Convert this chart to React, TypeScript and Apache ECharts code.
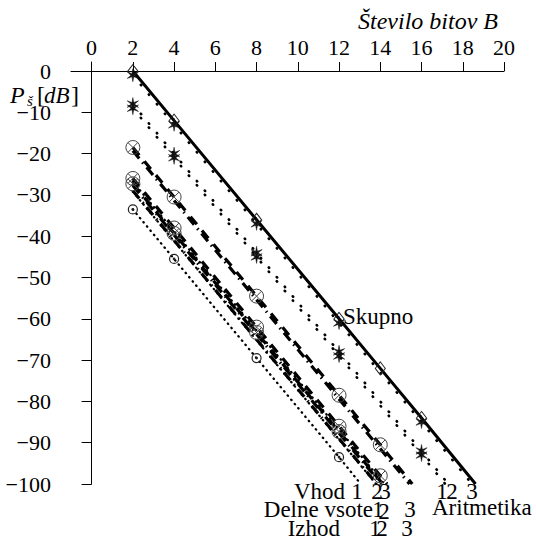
import React, { useEffect, useRef } from 'react';
import * as echarts from 'echarts';

// ---- axis ticks ----
const X_TICKS = [0, 2, 4, 6, 8, 10, 12, 14, 16, 18, 20];
const Y_TICKS = [0, -10, -20, -30, -40, -50, -60, -70, -80, -90, -100];

// ---- series: marker points [B, dB] and end point where each line meets -100 dB ----
const skupnoPts = [[2, 0], [4, -12], [8, -36], [12, -60], [14, -72], [16, -84]];
const skupnoEnd = [18.62, -100];

const arit3Pts = [[2, -1], [4, -13], [8, -37], [12, -61], [16, -85]];
const arit3End = [18.45, -100];
const arit2Pts = [[2, -8], [4, -20], [8, -44], [12, -68], [16, -92]];
const arit2End = [17.3, -100];
const arit1Pts = [[2, -9], [4, -21], [8, -45], [12, -69], [16, -93]];
const arit1End = [17.15, -100];

const delne3Pts = [[2, -18.5], [4, -30.5], [8, -54.5], [12, -78.5], [14, -90.5]];
const delne3End = [15.55, -100];
const izhod3Pts = [[2, -19.3]];
const izhod3End = [15.42, -100];

const delne2Pts = [[2, -26], [4, -38], [8, -62], [12, -86], [14, -98]];
const delne2End = [14.33, -100];
const delne1Pts = [[2, -27.3], [4, -39.3], [8, -63.3], [12, -87.3]];
const delne1End = [14.12, -100];
const izhod2Pts = [[2, -27.7]];
const izhod2End = [14.05, -100];
const izhod1Pts = [[2, -29]];
const izhod1End = [13.83, -100];

const vhod3Pts = [[2, -26.8]];
const vhod3End = [14.2, -100];
const vhod2Pts = [[2, -29.2]];
const vhod2End = [13.8, -100];
const vhod1Pts = [[2, -33.5], [4, -45.5], [8, -69.5], [12, -93.5]];
const vhod1End = [13.05, -100];

const SERIF = 'Liberation Serif';

const STAR =
  'path://M0,-6L0.8,-1.386L5.196,-3L1.6,0L5.196,3L0.8,1.386L0,6L-0.8,1.386L-5.196,3L-1.6,0L-5.196,-3L-0.8,-1.386Z';
const OTIMES =
  'path://M-6,0A6,6 0 1 1 6,0A6,6 0 1 1 -6,0ZM-4.24,-4.24L4.24,4.24M-4.24,4.24L4.24,-4.24';
const ODOT =
  'path://M-4,0A4,4 0 1 1 4,0A4,4 0 1 1 -4,0ZM-0.7,0A0.7,0.7 0 1 1 0.7,0A0.7,0.7 0 1 1 -0.7,0Z';

type Mk = { symbol: string; size: number | number[]; item: any } | null;

const MK_DIAMOND: Mk = {
  symbol: 'diamond',
  size: [10, 13],
  item: { color: 'rgba(0,0,0,0)', borderColor: '#222', borderWidth: 1 },
};
const MK_STAR: Mk = { symbol: STAR, size: 13, item: { color: '#111', borderColor: '#111', borderWidth: 0.5 } };
const MK_OTIMES: Mk = { symbol: OTIMES, size: 14, item: { color: 'rgba(0,0,0,0)', borderColor: '#444', borderWidth: 1 } };
const MK_ODOT: Mk = { symbol: ODOT, size: 9, item: { color: 'rgba(0,0,0,0)', borderColor: '#222', borderWidth: 1.2 } };

function mkSeries(name: string, pts: number[][], end: number[], line: any, mk: Mk) {
  const data: any[] = pts.map((p) => (mk ? { value: p } : { value: p, symbol: 'none' }));
  data.push({ value: end, symbol: 'none' });
  return {
    name,
    type: 'line',
    data,
    silent: true,
    clip: false,
    showSymbol: true,
    showAllSymbol: true,
    symbol: mk ? mk.symbol : 'none',
    symbolSize: mk ? mk.size : 0,
    symbolKeepAspect: true,
    itemStyle: mk ? mk.item : { color: '#000' },
    lineStyle: { color: '#000', ...line },
    emphasis: { disabled: true },
  };
}

const SOLID = { width: 3, type: 'solid' };
const DOT_WIDE = { width: 2.6, type: [0.5, 12], cap: 'round' };
const DOT_FINE = { width: 2.3, type: [0.5, 5], cap: 'round' };
const DASH = { width: 3.2, type: [10, 8], cap: 'butt' };
const DASHDOT = { width: 3.2, type: [10, 5, 1.5, 5], cap: 'butt' };

function txt(text: string, x: number, y: number, align: string, size = 23, italic = false) {
  const style: any = {
    text,
    fill: '#000',
    fontSize: size,
    fontFamily: SERIF,
    align,
    verticalAlign: 'middle',
  };
  if (italic) style.fontStyle = 'italic';
  return { type: 'text', x, y, style };
}

export default function App() {
  const ref = useRef<HTMLDivElement>(null);

  useEffect(() => {
    if (!ref.current) return;
    const chart = echarts.init(ref.current, null, { renderer: 'svg' });

    const series = [
      mkSeries('Vhod 3', vhod3Pts, vhod3End, DOT_FINE, null),
      mkSeries('Vhod 2', vhod2Pts, vhod2End, DOT_FINE, null),
      mkSeries('Vhod 1', vhod1Pts, vhod1End, DOT_FINE, MK_ODOT),
      mkSeries('Izhod 1', izhod1Pts, izhod1End, DASHDOT, null),
      mkSeries('Izhod 2', izhod2Pts, izhod2End, DASHDOT, null),
      mkSeries('Delne vsote 1', delne1Pts, delne1End, DASH, MK_OTIMES),
      mkSeries('Delne vsote 2', delne2Pts, delne2End, DASH, MK_OTIMES),
      mkSeries('Izhod 3', izhod3Pts, izhod3End, DASHDOT, null),
      mkSeries('Delne vsote 3', delne3Pts, delne3End, DASH, MK_OTIMES),
      mkSeries('Aritmetika 1', arit1Pts, arit1End, DOT_WIDE, MK_STAR),
      mkSeries('Aritmetika 2', arit2Pts, arit2End, DOT_WIDE, MK_STAR),
      mkSeries('Aritmetika 3', arit3Pts, arit3End, DOT_WIDE, MK_STAR),
      mkSeries('Skupno', skupnoPts, skupnoEnd, SOLID, MK_DIAMOND),
    ];

    const graphic = [
      // x-axis title
      txt('Število bitov B', 498, 21, 'right', 24, true),
      // y-axis title P_š[dB]
      txt('P', 10, 95, 'left', 24, true),
      txt('š', 27, 101, 'left', 15, true),
      txt('[', 37, 95, 'left', 24, false),
      txt('dB', 44, 95, 'left', 23, true),
      txt(']', 71, 95, 'left', 24, false),
      // annotations
      txt('Skupno', 343, 316, 'left'),
      txt('Vhod', 345, 491, 'right'),
      txt('1', 357, 491, 'center'),
      txt('2', 377, 491, 'center'),
      txt('3', 385, 491, 'center'),
      txt('1', 442, 491, 'center'),
      txt('2', 452, 491, 'center'),
      txt('3', 472, 491, 'center'),
      txt('Delne vsote', 373, 509, 'right'),
      txt('1', 378, 509, 'center'),
      txt('2', 384, 511, 'center'),
      txt('3', 410, 509, 'center'),
      txt('Aritmetika', 432, 507, 'left'),
      txt('Izhod', 340, 528, 'right'),
      txt('1', 375, 528, 'center'),
      txt('2', 382, 528, 'center'),
      txt('3', 407, 528, 'center'),
    ];

    chart.setOption({
      animation: false,
      grid: { left: 71, right: 32, top: 62, bottom: 57, containLabel: false },
      xAxis: {
        type: 'value',
        min: -1,
        max: 20,
        position: 'top',
        axisLine: { show: true, onZero: true, lineStyle: { color: '#000', width: 1 } },
        axisTick: { show: true, length: 9, customValues: X_TICKS, lineStyle: { color: '#000', width: 1 } },
        axisLabel: { customValues: X_TICKS, margin: 4, fontSize: 22, fontFamily: SERIF, color: '#000' },
        splitLine: { show: false },
      },
      yAxis: {
        type: 'value',
        min: -100,
        max: 2.2,
        position: 'left',
        axisLine: { show: true, onZero: true, lineStyle: { color: '#000', width: 1 } },
        axisTick: { show: true, length: 10, customValues: Y_TICKS, lineStyle: { color: '#000', width: 1 } },
        axisLabel: {
          customValues: Y_TICKS,
          margin: 20,
          fontSize: 22,
          fontFamily: SERIF,
          color: '#000',
          formatter: (v: number) => (v < 0 ? '\u2212' + Math.abs(v) : String(v)),
        },
        splitLine: { show: false },
      },
      series,
      graphic,
    });

    return () => chart.dispose();
  }, []);

  return <div ref={ref} style={{ position: 'absolute', left: 0, top: 0, width: 536, height: 541 }} />;
}
